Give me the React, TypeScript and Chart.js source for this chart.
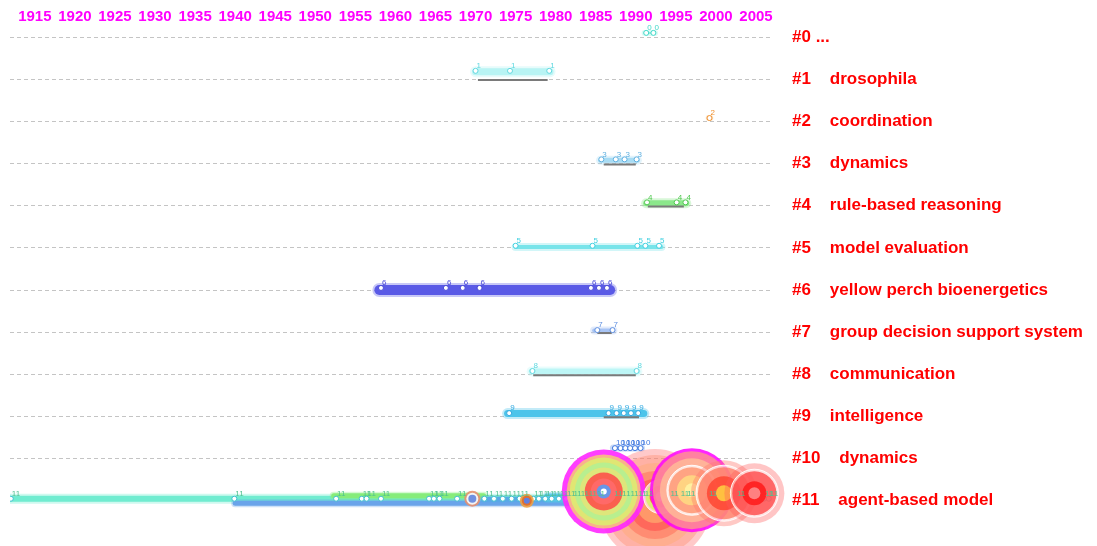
import React, { useEffect, useRef } from 'react';
import { Chart, registerables } from 'chart.js';

Chart.register(...registerables);

// ---------- data ----------
const yearTicks = [1915, 1920, 1925, 1930, 1935, 1940, 1945, 1950, 1955, 1960, 1965, 1970, 1975, 1980, 1985, 1990, 1995, 2000, 2005];
const yearMin = 1911.9;
const yearMax = 2007;
const clusterIds = [0, 1, 2, 3, 4, 5, 6, 7, 8, 9, 10, 11];
const clusterLabels = ['...', 'drosophila', 'coordination', 'dynamics', 'rule-based reasoning', 'model evaluation', 'yellow perch bioenergetics', 'group decision support system', 'communication', 'intelligence', 'dynamics', 'agent-based model'];

// cluster time spans
const bandStart = [1991.1, 1970, 1999.1, 1985.6, 1991.3, 1975, 1958, 1984.8, 1977, 1974, 1987.2, 1911.9];
const bandEnd = [1992.4, 1979.3, 1999.3, 1990.2, 1996.3, 1993.2, 1986.8, 1987.2, 1990.2, 1991, 1990.7, 1985];

// extra strands of cluster #11
const strand11Start = [1940, 1952.3, 1971, 1979];
const strand11End = [1989, 1971, 1986, 1987.5];

// grey base lines (null = none)
const baseStart = [null, 1970.3, null, 1986, 1991.5, null, null, 1985.2, 1977.2, 1986, null, null];
const baseEnd = [null, 1979, null, 1990, 1996, null, null, 1987, 1990, 1990.4, null, null];

// publication years of nodes in each cluster
const clusterNodes: number[][] = [
  [1991.3, 1992.2],
  [1970, 1974.3, 1979.2],
  [1999.2],
  [1985.7, 1987.5, 1988.6, 1990.1],
  [1991.4, 1995.1, 1996.2],
  [1975, 1984.6, 1990.2, 1991.2, 1992.9],
  [1958.2, 1966.3, 1968.4, 1970.5, 1984.4, 1985.4, 1986.4],
  [1985.2, 1987.1],
  [1977.1, 1990.1],
  [1974.2, 1986.6, 1987.6, 1988.5, 1989.4, 1990.3],
  [1987.4, 1988.1, 1988.7, 1989.3, 1989.9, 1990.6],
  [1912, 1939.9, 1952.6, 1955.8, 1956.4, 1958.2, 1964.2, 1964.8, 1965.5, 1967.7, 1971.1, 1972.3, 1973.4, 1974.5, 1975.5, 1977.2, 1977.9, 1978.7, 1979.5, 1980.4, 1981.3, 1982.1, 1983, 1984, 1985, 1987.2, 1988.2, 1989.2, 1990.2, 1991, 1994.2, 1995.5, 1996.3, 1999, 2002.5, 2006, 2006.6],
];

// highly cited nodes (all in cluster #11), drawn back to front
const hotYears = [1969.6, 1976.4, 1992.4, 1986, 1993.1, 1997, 2001, 2004.8];
const hotCluster = [11, 11, 11, 11, 11, 11, 11, 11];

// ---------- styles ----------
const bandColor = ['#90f0e0', '#b8f4f4', '#f0b060', '#a8dcf4', '#8ae88a', '#78e4ea', '#5a5ae6', '#a8c4f4', '#bdf6f6', '#4cc4ea', '#5a8ee8', '#70ecd0'];
const bandWidth = [2, 7, 2, 5, 6, 4, 10, 4, 6, 7, 3, 6];
const bandOffset = [-0.1, -0.18, -0.08, -0.08, -0.06, -0.02, 0, -0.04, -0.07, -0.07, -0.25, -0.05];
const nodeOffset = [-0.1, -0.2, -0.08, -0.1, -0.08, -0.05, -0.05, -0.05, -0.08, -0.08, -0.25, -0.05];
const nodeColor = ['#40d8c8', '#60d8e0', '#f09030', '#60b0e0', '#50c850', '#40d0e0', '#4848d8', '#6090e0', '#60d8e0', '#30a8e0', '#4078e0', '#40c0d0'];
const strand11Color = ['#6aa4ea', '#86ec7a', '#5aa8e8', '#58c8e8'];
const strand11Width = [5, 5, 5, 8];
const strand11Offset = [0.06, -0.12, -0.03, -0.08];
const hotOffset = [-0.05, 0, 0.1, -0.22, -0.1, -0.25, -0.18, -0.18];
const hotRings: [number, string][][] = [
  [[8, 'rgba(232,144,112,0.9)'], [6, '#f4f4f4'], [4, '#7090e0']],
  [[7, 'rgba(240,160,64,0.9)'], [5, '#e07030'], [3, '#6080e0']],
  [[56, 'rgba(255,100,100,0.35)'], [50, 'rgba(255,140,110,0.4)'], [42, 'rgba(255,170,110,0.4)'], [34, 'rgba(255,100,80,0.45)'], [26, 'rgba(255,70,70,0.5)'], [18, 'rgba(255,200,120,0.5)']],
  [[42, 'rgba(255,40,255,0.9)'], [37, 'rgba(248,200,120,0.85)'], [34, 'rgba(220,240,112,0.85)'], [29, 'rgba(176,240,148,0.85)'], [24, 'rgba(228,228,120,0.85)'], [19, 'rgba(255,72,72,0.85)'], [13, 'rgba(255,106,106,0.9)'], [7, '#6a96e6'], [3, '#ffffff']],
  [[17, 'rgba(255,255,255,0.6)'], [15, 'rgba(212,240,96,0.8)'], [11, 'rgba(255,72,72,0.85)'], [5, '#f4f4f4']],
  [[42, 'rgba(255,0,255,0.85)'], [39, 'rgba(255,160,130,0.75)'], [32, 'rgba(255,200,150,0.7)'], [25, 'rgba(255,255,255,0.7)'], [23, 'rgba(255,140,100,0.75)'], [15, 'rgba(255,220,130,0.85)'], [7, '#fff0a0']],
  [[33, 'rgba(255,120,110,0.4)'], [28, 'rgba(255,255,255,0.6)'], [26, 'rgba(255,90,60,0.6)'], [17, 'rgba(255,60,40,0.75)'], [8, '#ffc040']],
  [[30, 'rgba(255,90,90,0.35)'], [24, 'rgba(255,255,255,0.5)'], [22, 'rgba(255,50,50,0.7)'], [12, 'rgba(255,30,30,0.9)'], [6, '#ff8080']],
];

const FONT = "'Liberation Sans', Arial, sans-serif";

const nodeLabelPlugin = {
  id: 'nodeLabels',
  afterDatasetsDraw(chart: any) {
    const ctx = chart.ctx;
    ctx.save();
    ctx.font = `8px ${FONT}`;
    ctx.textBaseline = 'bottom';
    ctx.textAlign = 'left';
    chart.data.datasets.forEach((ds: any, i: number) => {
      if (ds.nodeLabel === undefined) return;
      const meta = chart.getDatasetMeta(i);
      ctx.fillStyle = ds.labelColor;
      meta.data.forEach((el: any) => {
        ctx.fillText(ds.nodeLabel, el.x + 1, el.y - 1);
      });
    });
    ctx.restore();
  },
};

export default function App() {
  const ref = useRef<HTMLCanvasElement | null>(null);

  useEffect(() => {
    if (!ref.current) return;
    const layers: any[] = [];

    // bands (glow + core)
    clusterIds.forEach((c) => {
      const y = c + bandOffset[c];
      const pts = [{ x: bandStart[c], y }, { x: bandEnd[c], y }];
      layers.push({ type: 'line', data: pts, borderColor: bandColor[c] + '55', borderWidth: bandWidth[c] + 4, borderCapStyle: 'round', pointRadius: 0 });
      layers.push({ type: 'line', data: pts, borderColor: bandColor[c], borderWidth: bandWidth[c], borderCapStyle: 'round', pointRadius: 0 });
    });
    strand11Start.forEach((s, k) => {
      const y = 11 + strand11Offset[k];
      const pts = [{ x: s, y }, { x: strand11End[k], y }];
      layers.push({ type: 'line', data: pts, borderColor: strand11Color[k] + '55', borderWidth: strand11Width[k] + 3, borderCapStyle: 'round', pointRadius: 0 });
      layers.push({ type: 'line', data: pts, borderColor: strand11Color[k], borderWidth: strand11Width[k], borderCapStyle: 'round', pointRadius: 0 });
    });
    // grey base lines
    clusterIds.forEach((c) => {
      if (baseStart[c] === null) return;
      layers.push({ type: 'line', data: [{ x: baseStart[c], y: c + 0.02 }, { x: baseEnd[c], y: c + 0.02 }], borderColor: '#7a7a7a', borderWidth: 2, pointRadius: 0 });
    });
    // nodes
    clusterIds.forEach((c) => {
      layers.push({
        type: 'bubble',
        data: clusterNodes[c].map((yr) => ({ x: yr, y: c + nodeOffset[c], r: 2.5 })),
        backgroundColor: '#ffffff',
        borderColor: nodeColor[c],
        borderWidth: 1,
        nodeLabel: String(c),
        labelColor: c === 11 ? '#50c090' : nodeColor[c],
      });
    });
    // hot nodes
    hotYears.forEach((yr, k) => {
      const rings = hotRings[k];
      layers.push({
        type: 'bubble',
        clip: false,
        data: rings.map((rg) => ({ x: yr, y: hotCluster[k] + hotOffset[k], r: rg[0] })),
        backgroundColor: rings.map((rg) => rg[1]),
        borderColor: rings.map((rg) => (rg[1].startsWith('rgba(255,255,255') ? 'rgba(255,255,255,0.9)' : 'rgba(0,0,0,0)')),
        borderWidth: 1,
      });
    });

    const datasets = layers.map((d, i) => ({ ...d, order: -i, tension: 0 }));

    const chart = new Chart(ref.current, {
      type: 'line',
      data: { datasets },
      plugins: [nodeLabelPlugin],
      options: {
        animation: false,
        responsive: true,
        maintainAspectRatio: false,
        events: [],
        layout: { autoPadding: false, padding: { left: 10, right: 0, top: 7, bottom: 10 } },
        plugins: { legend: { display: false }, tooltip: { enabled: false } },
        scales: {
          x: {
            type: 'linear',
            position: 'top',
            min: yearMin,
            max: yearMax,
            afterBuildTicks: (s: any) => {
              s.ticks = yearTicks.map((v) => ({ value: v }));
            },
            grid: { display: false, drawTicks: false },
            border: { display: false },
            ticks: {
              color: '#ff00ff',
              font: { family: FONT, size: 15, weight: 'bold' },
              padding: 1,
              maxRotation: 0,
              autoSkip: false,
              callback: (v: any) => String(v),
            },
          },
          y: {
            type: 'linear',
            position: 'right',
            reverse: true,
            min: -0.24,
            max: 11.83,
            afterBuildTicks: (s: any) => {
              s.ticks = clusterIds.map((v) => ({ value: v }));
            },
            afterFit: (s: any) => {
              s.width = 325;
            },
            grid: { color: '#c4c4c4', lineWidth: 1, drawTicks: true, tickLength: 20, tickColor: 'rgba(0,0,0,0)' },
            border: { display: false, dash: [4, 3] },
            ticks: {
              color: '#ff0000',
              font: { family: FONT, size: 17, weight: 'bold' },
              padding: 0,
              crossAlign: 'near',
              autoSkip: false,
              callback: (v: any) => (v === 0 ? `#0 ${clusterLabels[0]}` : `#${v}    ${clusterLabels[v]}`),
            },
          },
        },
      } as any,
    });
    return () => chart.destroy();
  }, []);

  return (
    <div style={{ position: 'absolute', left: 0, top: 0, width: 1097, height: 546, background: '#ffffff' }}>
      <canvas ref={ref} />
    </div>
  );
}
